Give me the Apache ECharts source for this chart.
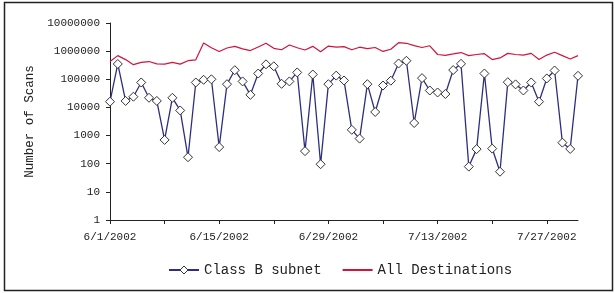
<!DOCTYPE html>
<html>
<head>
<meta charset="utf-8">
<script src="https://cdn.jsdelivr.net/npm/echarts@6/dist/echarts.min.js"></script>
<style>
    html, body { margin: 0; padding: 0; background: #fff; }
    #chart { width: 615px; height: 293px; }
</style>
</head>
<body>
<div id="chart"></div>
<script>
// days 6/1/2002 .. 7/31/2002
var dates = [
    '6/1/2002', '6/2/2002', '6/3/2002', '6/4/2002', '6/5/2002', '6/6/2002', '6/7/2002',
    '6/8/2002', '6/9/2002', '6/10/2002', '6/11/2002', '6/12/2002', '6/13/2002', '6/14/2002',
    '6/15/2002', '6/16/2002', '6/17/2002', '6/18/2002', '6/19/2002', '6/20/2002', '6/21/2002',
    '6/22/2002', '6/23/2002', '6/24/2002', '6/25/2002', '6/26/2002', '6/27/2002', '6/28/2002',
    '6/29/2002', '6/30/2002', '7/1/2002', '7/2/2002', '7/3/2002', '7/4/2002', '7/5/2002',
    '7/6/2002', '7/7/2002', '7/8/2002', '7/9/2002', '7/10/2002', '7/11/2002', '7/12/2002',
    '7/13/2002', '7/14/2002', '7/15/2002', '7/16/2002', '7/17/2002', '7/18/2002', '7/19/2002',
    '7/20/2002', '7/21/2002', '7/22/2002', '7/23/2002', '7/24/2002', '7/25/2002', '7/26/2002',
    '7/27/2002', '7/28/2002', '7/29/2002', '7/30/2002', '7/31/2002'
];

var classB = [
    16000, 350000, 17000, 24000, 77000, 22000, 17000, 700, 22000, 7800,
    170, 77000, 96000, 100000, 390, 67000, 210000, 84000, 28000, 160000,
    340000, 290000, 69000, 84000, 175000, 280, 148000, 96, 67000, 135000,
    91000, 1600, 780, 67000, 6900, 60000, 89000, 365000, 455000, 2800,
    110000, 40000, 34000, 30000, 213000, 355000, 79, 330, 160000, 345,
    52, 79000, 66000, 40000, 77000, 16000, 107000, 205000, 560, 335,
    133000
];

var allDest = [
    427000, 692000, 501000, 331000, 398000, 427000, 355000, 347000, 398000, 347000,
    457000, 490000, 1950000, 1320000, 977000, 1290000, 1480000, 1200000, 1050000, 1410000,
    1900000, 1260000, 1120000, 1660000, 1320000, 1100000, 1480000, 955000, 1510000, 1380000,
    1450000, 1120000, 1380000, 1230000, 1350000, 977000, 1170000, 2000000, 1900000, 1580000,
    1350000, 1550000, 759000, 708000, 794000, 891000, 692000, 759000, 813000, 501000,
    575000, 832000, 759000, 724000, 832000, 501000, 724000, 912000, 692000, 525000,
    692000
];

var yTicks = [1, 10, 100, 1000, 10000, 100000, 1000000, 10000000];

var mono = '"Liberation Mono", "DejaVu Sans Mono", monospace';

var myChart = echarts.init(document.getElementById('chart'));

var option = {
    animation: false,
    backgroundColor: '#fff',
    textStyle: { fontFamily: mono },
    grid: { left: 110, right: 37, top: 23, bottom: 73, containLabel: false },
    graphic: [{
        type: 'rect',
        shape: { x: 4.5, y: 2.5, width: 608, height: 288 },
        style: { fill: 'none', stroke: '#222', lineWidth: 1.5 },
        silent: true
    }],
    legend: {
        left: 163,
        top: 258,
        itemWidth: 30,
        itemHeight: 10,
        itemGap: 20,
        textStyle: { fontFamily: mono, fontSize: 14, color: '#222' },
        data: [{
            name: 'Class B subnet',
            itemStyle: { color: '#fff', borderColor: '#333', borderWidth: 1 }
        }, {
            name: 'All Destinations',
            itemStyle: { opacity: 0 }
        }]
    },
    xAxis: {
        type: 'category',
        boundaryGap: false,
        data: dates,
        axisLine: { lineStyle: { color: '#222', width: 1 } },
        axisTick: { interval: 6, length: 4, lineStyle: { color: '#222' } },
        axisLabel: {
            interval: 13,
            color: '#222',
            fontFamily: mono,
            fontSize: 11,
            margin: 12
        },
        splitLine: { show: false }
    },
    yAxis: {
        type: 'log',
        logBase: 10,
        min: yTicks[0],
        max: yTicks[yTicks.length - 1],
        name: 'Number of Scans',
        nameLocation: 'middle',
        nameGap: 67,
        nameTextStyle: { fontFamily: mono, fontSize: 12.5, color: '#222' },
        axisLine: { show: true, lineStyle: { color: '#222', width: 1 } },
        axisTick: { show: true, length: 4, lineStyle: { color: '#222' } },
        axisLabel: {
            color: '#222',
            fontFamily: mono,
            fontSize: 11,
            margin: 10,
            formatter: function(v) { return String(Math.round(v)); }
        },
        splitLine: { show: false }
    },
    series: [{
        name: 'Class B subnet',
        type: 'line',
        data: classB,
        symbol: 'diamond',
        symbolSize: [9, 9],
        showAllSymbol: true,
        itemStyle: { color: '#fff', borderColor: '#333', borderWidth: 1 },
        lineStyle: { color: '#2e2e80', width: 1.3 },
        z: 3
    }, {
        name: 'All Destinations',
        type: 'line',
        data: allDest,
        symbol: 'none',
        itemStyle: { color: '#d0143c' },
        lineStyle: { color: '#d0143c', width: 1.2 },
        z: 2
    }]
};

myChart.setOption(option);
</script>
</body>
</html>
